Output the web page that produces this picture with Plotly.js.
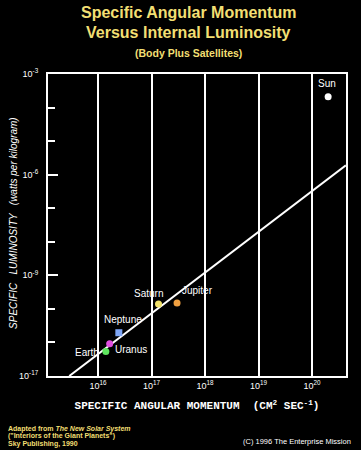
<!DOCTYPE html>
<html><head><meta charset="utf-8">
<script src="https://cdn.plot.ly/plotly-3.0.1.min.js"></script>
<style>html,body{margin:0;padding:0;background:#000;}#chart{width:361px;height:450px;}</style>
</head><body><div id="chart"></div>
<script>
// Data
var bodies = ["Sun", "Saturn", "Jupiter", "Neptune", "Uranus", "Earth"];
var angularMomentum = [2.0e20, 1.35e17, 3.0e17, 2.45e16, 1.65e16, 1.4e16];   // cm^2 s^-1
var luminosity = [2.1e-4, 1.4e-10, 1.5e-10, 1.95e-11, 9.1e-12, 5.4e-12];      // W/kg
var bodyColors = ["#ffffff", "#f2e26a", "#f0a040", "#7fa6f5", "#e04ee0", "#5fe65f"];
var bodySymbols = ["circle", "circle", "circle", "square", "circle", "circle"];
var labelShiftX = [-1, -10, 20, 4, 21, -19];
var labelShiftY = [13, 10, 12, 13, -6, -1];
var fitX = [2.9e15, 4.3e20];
var fitY = [1e-12, 1.9e-6];
var xTickVals = [1e16, 1e17, 1e18, 1e19, 1e20];
var xTickText = ["10<sup>16</sup>", "10<sup>17</sup>", "10<sup>18</sup>", "10<sup>19</sup>", "10<sup>20</sup>"];
var yTickVals = [1e-12, 1e-9, 1e-6, 1e-3];
var yTickText = ["10<sup>-17</sup>", "10<sup>-9</sup>", "10<sup>-6</sup>", "10<sup>-3</sup>"];
var yMinorVals = [1e-11, 1e-10, 1e-8, 1e-7, 1e-5, 1e-4];
var titleLines = ["Specific Angular Momentum", "Versus Internal Luminosity", "(Body Plus Satellites)"];
var creditLines = ["Adapted from <i>The New Solar System</i>", "(\"Interiors of the Giant Planets\")", "Sky Publishing, 1990"];
var copyright = "(C) 1996 The Enterprise Mission";

var traces = [
  {x: fitX, y: fitY, mode: "lines", line: {color: "#ffffff", width: 2}, hoverinfo: "skip"},
  {x: angularMomentum, y: luminosity, mode: "markers",
   marker: {color: bodyColors, size: 7, symbol: bodySymbols, line: {width: 0}}, cliponaxis: false}
];

var SANS = "Liberation Sans, Arial";
var TITLE_COLOR = "#f2df73";
var annotations = [];
bodies.forEach(function (name, i) {
  annotations.push({xref: "x", yref: "y", x: Math.log10(angularMomentum[i]), y: Math.log10(luminosity[i]),
    text: name, showarrow: false, xanchor: "center", yanchor: "middle",
    xshift: labelShiftX[i], yshift: labelShiftY[i],
    font: {family: SANS, size: 10, color: "#ffffff"}});
});
var titleY = [1.202, 1.136, 1.071];
var titleSize = [16, 16, 10.5];
titleLines.forEach(function (t, i) {
  annotations.push({xref: "paper", yref: "paper", x: 0.47, y: titleY[i], xanchor: "center", yanchor: "middle",
    showarrow: false, text: "<b>" + t + "</b>", font: {family: SANS, size: titleSize[i], color: TITLE_COLOR}});
});
var creditY = [-0.1755, -0.2003, -0.2252];
creditLines.forEach(function (t, i) {
  annotations.push({xref: "paper", yref: "paper", x: -0.14, y: creditY[i], xanchor: "left", yanchor: "middle",
    showarrow: false, align: "left", text: "<b>" + t + "</b>", font: {family: SANS, size: 7, color: TITLE_COLOR}});
});
annotations.push({xref: "paper", yref: "paper", x: 1.025, y: -0.2185, xanchor: "right", yanchor: "middle",
  showarrow: false, text: copyright, font: {family: SANS, size: 7.5, color: "#ffffff"}});
annotations.push({xref: "paper", yref: "paper", x: -0.114, y: 0.507, xanchor: "center", yanchor: "middle",
  textangle: -90, showarrow: false,
  text: "<i>SPECIFIC   LUMINOSITY   (watts per kilogram)</i>",
  font: {family: SANS, size: 10, color: "#ffffff"}});

var layout = {
  width: 361, height: 450,
  margin: {l: 48, r: 15, t: 74, b: 74},
  paper_bgcolor: "#000", plot_bgcolor: "#000",
  showlegend: false,
  font: {family: SANS, color: "#ffffff"},
  xaxis: {
    type: "log", range: [15.065, 20.635],
    tickmode: "array", tickvals: xTickVals, ticktext: xTickText,
    tickfont: {size: 9, color: "#ffffff"},
    showgrid: true, gridcolor: "#ffffff", gridwidth: 2,
    ticks: "", showline: true, linecolor: "#ffffff", linewidth: 2, mirror: true,
    zeroline: false,
    title: {text: "<b>SPECIFIC ANGULAR MOMENTUM  (CM<sup>2</sup> SEC<sup>-1</sup>)</b>",
            font: {family: "Liberation Mono, Courier New", size: 11, color: "#ffffff"}, standoff: 12}
  },
  yaxis: {
    type: "log", range: [-12, -3],
    tickmode: "array", tickvals: yTickVals, ticktext: yTickText,
    tickfont: {size: 9, color: "#ffffff"},
    ticks: "inside", ticklen: 10, tickwidth: 2, tickcolor: "#ffffff",
    minor: {tickmode: "array", tickvals: yMinorVals, ticks: "inside", ticklen: 7, tickwidth: 2, tickcolor: "#ffffff", showgrid: false},
    ticklabelstandoff: 6,
    showgrid: false, showline: true, linecolor: "#ffffff", linewidth: 2, mirror: true,
    zeroline: false
  },
  annotations: annotations
};
Plotly.newPlot("chart", traces, layout, {displayModeBar: false, staticPlot: true});
</script></body></html>
